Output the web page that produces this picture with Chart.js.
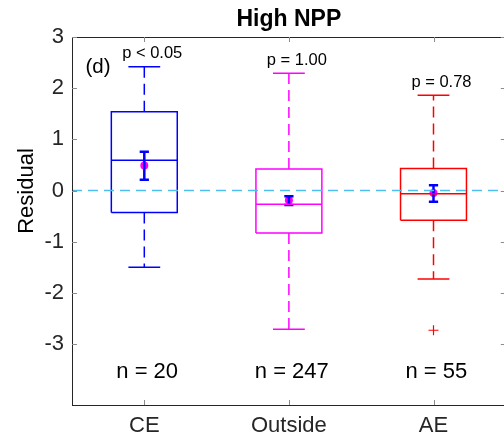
<!DOCTYPE html>
<html>
<head>
<meta charset="utf-8">
<script src="https://cdn.jsdelivr.net/npm/chart.js@4"></script>
<style>
  html, body { margin: 0; padding: 0; background: #fff; overflow: hidden; }
  #wrap { width: 512px; height: 442px; position: relative; }
</style>
</head>
<body>
<div id="wrap"><canvas id="c"></canvas></div>
<script>
// ---- data ----
const categories = ['CE', 'Outside', 'AE'];
const whiskerHigh = [2.42, 2.29, 1.86];
const q3 = [1.54, 0.42, 0.43];
const median = [0.59, -0.27, -0.065];
const q1 = [-0.43, -0.83, -0.58];
const whiskerLow = [-1.50, -2.71, -1.73];
const outliers = [[], [], [-2.73]];
const means = [0.49, -0.19, -0.05];
const meanLow = [0.21, -0.28, -0.22];
const meanHigh = [0.76, -0.11, 0.105];
const pLabels = ['p < 0.05', 'p = 1.00', 'p = 0.78'];
const nLabels = ['n = 20', 'n = 247', 'n = 55'];
const yTicks = [-3, -2, -1, 0, 1, 2, 3];
const panelLabel = '(d)';
const chartTitle = 'High NPP';
const yTitle = 'Residual';

// ---- styles ----
const boxColors = ['#0000FF', '#FF00FF', '#FF0000'];
const meanColor = '#FF00FF';
const errColor = '#0000FF';
const zeroColor = '#4DBEEE';
const axisColor = '#262626';
const FONT = '"Liberation Sans", Arial, Helvetica, sans-serif';
const BOX_HW = 0.228, CAP_HW = 0.11, ERR_HW = 0.032;

function seg(x1, y1, x2, y2) { return [{x: x1, y: y1}, {x: x2, y: y2}]; }
function lineDs(data, color, width, dash) {
  return { type: 'scatter', data, showLine: true, pointRadius: 0, pointHoverRadius: 0,
    borderColor: color, backgroundColor: color, borderWidth: width, borderDash: dash || [],
    fill: false, tension: 0 };
}

const datasets = [];
datasets.push(lineDs(seg(0.5, 0, 3.5, 0), zeroColor, 1.5, [10, 6]));
categories.forEach((c, i) => {
  const x = i + 1, col = boxColors[i];
  datasets.push(lineDs([
    {x: x - BOX_HW, y: q1[i]}, {x: x + BOX_HW, y: q1[i]}, {x: x + BOX_HW, y: q3[i]},
    {x: x - BOX_HW, y: q3[i]}, {x: x - BOX_HW, y: q1[i]}], col, 1.5));
  datasets.push(lineDs(seg(x - BOX_HW, median[i], x + BOX_HW, median[i]), col, 1.5));
  datasets.push(lineDs(seg(x, q3[i], x, whiskerHigh[i]), col, 1.5, [11, 6]));
  datasets.push(lineDs(seg(x, q1[i], x, whiskerLow[i]), col, 1.5, [11, 6]));
  datasets.push(lineDs(seg(x - CAP_HW, whiskerHigh[i], x + CAP_HW, whiskerHigh[i]), col, 1.5));
  datasets.push(lineDs(seg(x - CAP_HW, whiskerLow[i], x + CAP_HW, whiskerLow[i]), col, 1.5));
  if (outliers[i].length) {
    datasets.push({ type: 'scatter', data: outliers[i].map(v => ({x, y: v})),
      pointStyle: 'cross', pointRadius: 5, borderColor: col, borderWidth: 1.2, backgroundColor: col });
  }
  // error bar
  datasets.push(lineDs(seg(x, meanLow[i], x, meanHigh[i]), errColor, 2.5));
  datasets.push(lineDs(seg(x - ERR_HW, meanLow[i], x + ERR_HW, meanLow[i]), errColor, 2.5));
  datasets.push(lineDs(seg(x - ERR_HW, meanHigh[i], x + ERR_HW, meanHigh[i]), errColor, 2.5));
  datasets.push({ type: 'scatter', data: [{x, y: means[i]}], pointRadius: 4,
    pointBorderWidth: 0, backgroundColor: meanColor, borderColor: meanColor });
});

const decor = {
  id: 'decor',
  afterDraw(chart) {
    const {ctx, chartArea: a, scales: {x: xs, y: ys}} = chart;
    ctx.save();
    // axes box
    ctx.strokeStyle = axisColor; ctx.lineWidth = 1;
    ctx.strokeRect(Math.round(a.left) + 0.5, Math.round(a.top) + 0.5,
      Math.round(a.right - a.left), Math.round(a.bottom - a.top));
    const TL = 5;
    ctx.beginPath();
    yTicks.forEach(v => {
      const py = Math.round(ys.getPixelForValue(v)) + 0.5;
      ctx.moveTo(a.left, py); ctx.lineTo(a.left + TL, py);
      ctx.moveTo(a.right, py); ctx.lineTo(a.right - TL, py);
    });
    categories.forEach((c, i) => {
      const px = Math.round(xs.getPixelForValue(i + 1)) + 0.5;
      ctx.moveTo(px, a.bottom); ctx.lineTo(px, a.bottom - TL);
      ctx.moveTo(px, a.top); ctx.lineTo(px, a.top + TL);
    });
    ctx.strokeStyle = '#8c8c8c';
    ctx.stroke();
    // annotations
    ctx.fillStyle = '#000';
    ctx.textAlign = 'center'; ctx.textBaseline = 'middle';
    ctx.font = '16.5px ' + FONT;
    categories.forEach((c, i) => {
      const px = xs.getPixelForValue(i + 1.055);
      const py = ys.getPixelForValue(whiskerHigh[i]) - 13;
      ctx.fillText(pLabels[i], px, py);
    });
    ctx.font = '22px ' + FONT;
    categories.forEach((c, i) => {
      ctx.fillText(nLabels[i], xs.getPixelForValue(i + 1.02), ys.getPixelForValue(-3.55));
    });
    ctx.font = '20.5px ' + FONT;
    ctx.fillText(panelLabel, a.left + 26, a.top + 30);
    // title
    ctx.font = 'bold 23px ' + FONT;
    ctx.fillText(chartTitle, (a.left + a.right) / 2, 20);
    // y title
    ctx.font = '22px ' + FONT;
    ctx.translate(27, (a.top + a.bottom) / 2 - 30);
    ctx.rotate(-Math.PI / 2);
    ctx.fillText(yTitle, 0, 0);
    ctx.restore();
  }
};

new Chart(document.getElementById('c'), {
  type: 'scatter',
  data: { datasets },
  options: {
    responsive: true, maintainAspectRatio: false, animation: false,
    layout: { padding: { top: 37, right: 5, left: 0, bottom: 0 } },
    plugins: { legend: { display: false }, tooltip: { enabled: false }, title: { display: false } },
    scales: {
      x: {
        type: 'linear', min: 0.5, max: 3.5,
        afterBuildTicks: s => { s.ticks = [1, 2, 3].map(v => ({value: v})); },
        afterFit: s => { s.height = 37; },
        grid: { display: false, drawTicks: false }, border: { display: false },
        ticks: { callback: v => categories[v - 1], font: { size: 22, family: FONT }, color: axisColor, padding: 8, maxRotation: 0, autoSkip: false }
      },
      y: {
        type: 'linear', min: -4.19, max: 3,
        afterBuildTicks: s => { s.ticks = yTicks.map(v => ({value: v})); },
        afterFit: s => { s.width = 72; },
        grid: { display: false, drawTicks: false }, border: { display: false },
        ticks: { font: { size: 22, family: FONT }, color: axisColor, padding: 8 }
      }
    }
  },
  plugins: [decor]
});
</script>
</body>
</html>
